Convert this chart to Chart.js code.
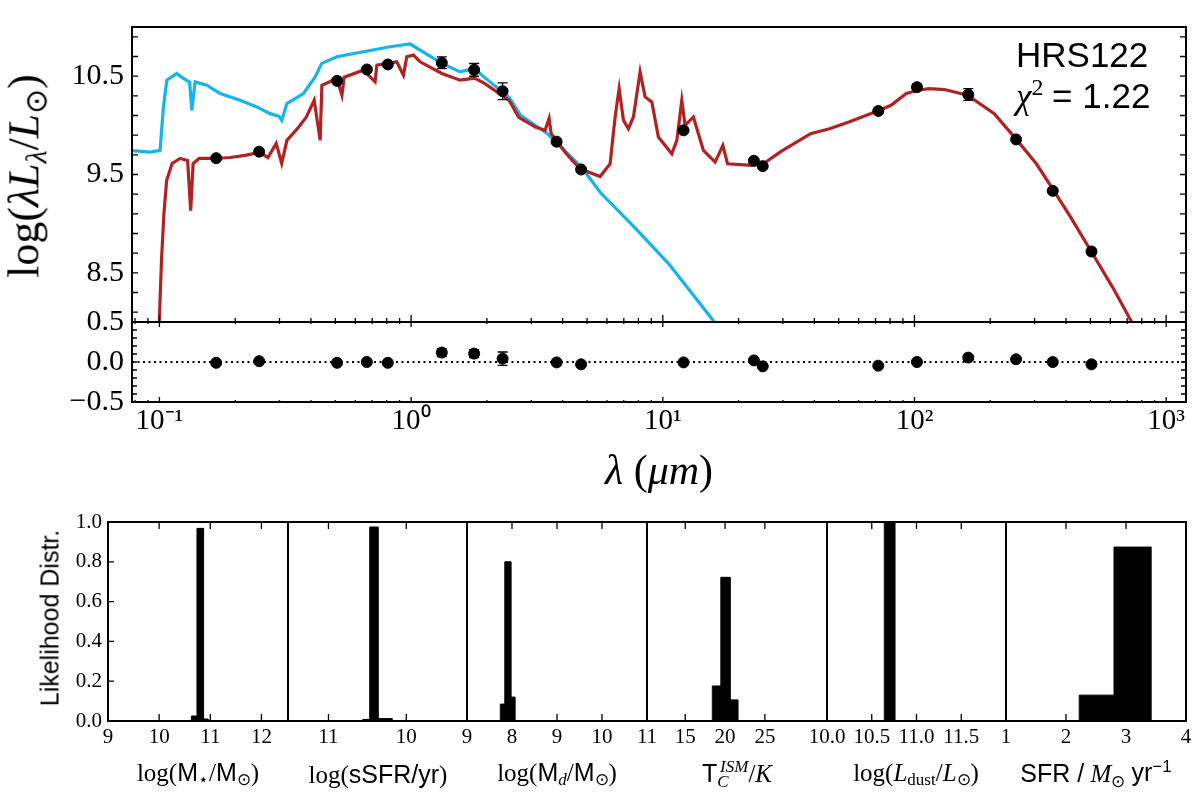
<!DOCTYPE html>
<html>
<head>
<meta charset="utf-8">
<script src="https://cdn.jsdelivr.net/npm/chart.js@4.4.1/dist/chart.umd.min.js"></script>
<style>
  body { margin: 0; background: #fff; }
  #wrap { position: relative; width: 1200px; height: 804px; overflow: hidden; background: #fff; }
  canvas { position: absolute; }
  .lbl { position: absolute; white-space: nowrap; color: #000; line-height: 1; font-family: 'Liberation Serif', serif; }
  .c { transform: translate(-50%, -50%); }
  .rot { transform: translate(-50%, -50%) rotate(-90deg); }
  .sans { font-family: 'Liberation Sans', Arial, sans-serif; }
  .lbl sub { font-size: 0.68em; vertical-align: -0.28em; }
  .lbl sup { font-size: 0.68em; vertical-align: 0.55em; }
</style>
</head>
<body>
<div id="wrap">
  <canvas id="sed" width="1200" height="352" style="left:0;top:0"></canvas>
  <canvas id="res" width="1200" height="208" style="left:0;top:292px"></canvas>

  <div class="lbl rot" style="left:27px;top:176px;font-size:44px">log(<i>λL</i><sub><i>λ</i></sub>/<i>L</i><sub>⊙</sub>)</div>
  <div class="lbl c" style="left:659px;top:470px;font-size:42px"><i>λ</i> (<i>μm</i>)</div>
  <div class="lbl sans" style="left:1016px;top:37px;font-size:35px">HRS122</div>
  <div class="lbl" style="left:1016px;top:76px;font-size:35px"><i>χ</i><sup>2</sup> <span class="sans">= 1.22</span></div>

  <div class="lbl rot sans" style="left:50px;top:618px;font-size:25px">Likelihood Distr.</div>
  <div class="lbl c" style="left:198px;top:774px;font-size:25px">log(<span class="sans">M</span><sub>⋆</sub>/<span class="sans">M</span><sub>⊙</sub>)</div>
  <div class="lbl c" style="left:378px;top:774px;font-size:25px">log(<span class="sans">sSFR/yr</span>)</div>
  <div class="lbl c" style="left:557px;top:774px;font-size:25px">log(<span class="sans">M</span><sub><i>d</i></sub>/<span class="sans">M</span><sub>⊙</sub>)</div>
  <div class="lbl c" style="left:737px;top:774px;font-size:25px"><span class="sans">T</span><sub><i>C</i></sub><sup style="margin-left:-0.5em"><i>ISM</i></sup>/<i>K</i></div>
  <div class="lbl c" style="left:916px;top:774px;font-size:25px">log(<i>L</i><sub>dust</sub>/<i>L</i><sub>⊙</sub>)</div>
  <div class="lbl c" style="left:1096px;top:774px;font-size:25px"><span class="sans">SFR /</span> <i>M</i><sub>⊙</sub> <span class="sans">yr<sup>−1</sup></span></div>
</div>

<script>
// ---- photometry (wavelength in micron, log luminosity, errors) ----
const bandWave = [0.168, 0.249, 0.508, 0.667, 0.808, 1.324, 1.780, 2.309, 3.785, 4.735,
                  12.09, 23.01, 24.95, 71.8, 102.3, 163.6, 253.3, 354.4, 505.0];
const bandLum  = [9.666, 9.732, 10.452, 10.568, 10.619, 10.636, 10.564, 10.347, 9.834, 9.551,
                  9.949, 9.640, 9.585, 10.146, 10.388, 10.313, 9.857, 9.334, 8.717];
const bandErr  = [0.02, 0.02, 0.02, 0.02, 0.02, 0.06, 0.065, 0.085, 0.02, 0.02,
                  0.02, 0.02, 0.02, 0.02, 0.03, 0.06, 0.02, 0.02, 0.02];
const residual = [-0.01, 0.01, -0.01, 0.0, -0.01, 0.118, 0.105, 0.042, -0.005, -0.029,
                  -0.005, 0.02, -0.054, -0.046, 0.0, 0.055, 0.034, 0.0, -0.029];
const residErr = [0.02, 0.02, 0.02, 0.02, 0.02, 0.05, 0.05, 0.083, 0.02, 0.02,
                  0.02, 0.02, 0.02, 0.02, 0.02, 0.03, 0.02, 0.02, 0.02];

// ---- best fit model (attenuated) ----
const modelWave = [0.0995, 0.1020, 0.1042, 0.1068, 0.1123, 0.1208, 0.1294, 0.1331, 0.1361, 0.1438,
  0.168, 0.191, 0.219, 0.249, 0.270, 0.291, 0.306, 0.321, 0.357, 0.383,
  0.412, 0.435, 0.442, 0.507, 0.531, 0.542, 0.646, 0.719, 0.731, 0.877,
  0.932, 0.961, 1.021, 1.086, 1.324, 1.566, 1.788, 1.950, 2.451, 2.676,
  3.131, 3.407, 3.534, 3.599, 4.129, 4.692, 5.636, 6.175, 6.465, 6.707,
  6.976, 7.301, 7.643, 8.124, 8.505, 9.044, 9.605, 10.86, 11.37, 11.90,
  12.26, 13.23, 14.50, 16.14, 17.32, 18.09, 22.58, 25.10, 29.51, 38.66,
  46.0, 54.9, 72.6, 80.7, 92.8, 103, 114.4, 131.6, 162.4, 207.5,
  255.9, 305, 350.9, 417.8, 506.8, 613.8, 731.8, 760];
const modelLum = [7.9, 8.653, 9.102, 9.439, 9.612, 9.663, 9.643, 9.133, 9.612, 9.663,
  9.663, 9.673, 9.694, 9.724, 9.673, 9.816, 9.612, 9.847, 9.980, 10.082,
  10.255, 9.847, 10.408, 10.477, 10.306, 10.490, 10.561, 10.442, 10.612, 10.646,
  10.510, 10.697, 10.714, 10.646, 10.528, 10.459, 10.480, 10.429, 10.255, 10.082,
  9.980, 9.949, 10.071, 9.918, 9.714, 9.558, 9.480, 9.609, 10.085, 10.374,
  10.051, 9.966, 10.085, 10.544, 10.289, 10.238, 9.881, 9.711, 9.847, 10.255,
  10.0, 10.085, 9.745, 9.626, 9.796, 9.609, 9.592, 9.609, 9.735, 9.915,
  9.966, 10.034, 10.153, 10.204, 10.323, 10.357, 10.374, 10.364, 10.306, 10.119,
  9.847, 9.609, 9.370, 9.064, 8.707, 8.35, 7.993, 7.85];

// ---- unattenuated stellar spectrum ----
const starWave = [0.075, 0.0919, 0.1006, 0.1037, 0.1070, 0.1172, 0.1246, 0.1318, 0.1345, 0.1386,
  0.1543, 0.1743, 0.2092, 0.2438, 0.2754, 0.2989, 0.3064, 0.3208, 0.3733, 0.4155,
  0.4417, 0.5069, 0.6464, 0.8253, 0.9908, 1.086, 1.324, 1.566, 1.788, 1.950,
  2.451, 2.723, 3.470, 4.766, 5.636, 7.721, 10.58, 16.11, 16.6];
const starLum = [9.745, 9.728, 9.745, 10.187, 10.459, 10.528, 10.477, 10.439, 10.153, 10.442,
  10.408, 10.323, 10.255, 10.187, 10.119, 10.092, 10.051, 10.221, 10.323, 10.493,
  10.630, 10.697, 10.748, 10.799, 10.827, 10.765, 10.630, 10.544, 10.579, 10.490,
  10.286, 10.102, 9.918, 9.571, 9.319, 8.962, 8.589, 7.993, 7.93];

const decadeTicks  = [0.1, 1, 10, 100, 1000];
const decadeLabels = ['10⁻¹', '10⁰', '10¹', '10²', '10³'];
const sedLumTicks  = [8.5, 9.5, 10.5];
const residTicks   = [-0.5, 0.0, 0.5];

// ---- likelihood distributions (bin edges, heights) ----
const mstarEdges = [10.63, 10.74, 10.87, 10.96];
const mstarProb  = [0.025, 0.968, 0.01];
const ssfrEdges  = [-10.56, -10.47, -10.36, -10.18];
const ssfrProb   = [0.008, 0.975, 0.012];
const mdustEdges = [7.74, 7.84, 7.98, 8.07];
const mdustProb  = [0.085, 0.80, 0.12];
const tempEdges  = [18.4, 19.47, 20.66, 21.63];
const tempProb   = [0.176, 0.722, 0.106];
const ldustEdges = [10.64, 10.76];
const ldustProb  = [1.0];
const sfrEdges   = [2.22, 2.80, 3.42];
const sfrProb    = [0.13, 0.874];

const mstarTicks = [9, 10, 11, 12];          const mstarLabels = ['9', '10', '11', '12'];
const ssfrTicks  = [-11, -10];               const ssfrLabels  = ['11', '10'];
const mdustTicks = [7, 8, 9, 10, 11];        const mdustLabels = ['9', '8', '9', '10', '11'];
const tempTicks  = [15, 20, 25];             const tempLabels  = ['15', '20', '25'];
const ldustTicks = [10.0, 10.5, 11.0, 11.5]; const ldustLabels = ['10.0', '10.5', '11.0', '11.5'];
const sfrTicks   = [1, 2, 3, 4];             const sfrLabels   = ['1', '2', '3', '4'];
const probTicks  = [0, 0.2, 0.4, 0.6, 0.8, 1.0];

const SERIF = 'Liberation Serif';
const RED = '#b22222';
const BLUE = '#14b4ec';

// frame around the plot area + inward ticks
const frameTicks = {
  id: 'frameTicks',
  afterDatasetsDraw(chart, args, opts) {
    const { ctx, chartArea: a, scales } = chart;
    ctx.save();
    ctx.strokeStyle = '#000';
    ctx.lineWidth = 1.3;
    ctx.beginPath();
    (opts.x || []).forEach(t => {
      const px = scales.x.getPixelForValue(t.v);
      if (px < a.left + 1 || px > a.right - 1) return;
      if (opts.xSides.includes('bottom')) { ctx.moveTo(px, a.bottom); ctx.lineTo(px, a.bottom - t.len); }
      if (opts.xSides.includes('top')) { ctx.moveTo(px, a.top); ctx.lineTo(px, a.top + t.len); }
    });
    (opts.y || []).forEach(t => {
      const py = scales.y.getPixelForValue(t.v);
      if (py < a.top + 1 || py > a.bottom - 1) return;
      if (opts.ySides.includes('left')) { ctx.moveTo(a.left, py); ctx.lineTo(a.left + t.len, py); }
      if (opts.ySides.includes('right')) { ctx.moveTo(a.right, py); ctx.lineTo(a.right - t.len, py); }
    });
    ctx.stroke();
    ctx.lineWidth = 2;
    ctx.strokeRect(a.left, a.top, a.right - a.left, a.bottom - a.top);
    ctx.restore();
  }
};

const errorBars = {
  id: 'errorBars',
  afterDatasetsDraw(chart) {
    const { ctx } = chart;
    const ys = chart.scales.y;
    chart.data.datasets.forEach((ds, di) => {
      if (!ds.errors) return;
      const meta = chart.getDatasetMeta(di);
      ctx.save();
      ctx.strokeStyle = '#000';
      ctx.lineWidth = 1.3;
      ctx.beginPath();
      meta.data.forEach((pt, k) => {
        const v = ds.data[k].y, e = ds.errors[k];
        const y1 = ys.getPixelForValue(v - e), y2 = ys.getPixelForValue(v + e);
        ctx.moveTo(pt.x, y1); ctx.lineTo(pt.x, y2);
        ctx.moveTo(pt.x - 5, y1); ctx.lineTo(pt.x + 5, y1);
        ctx.moveTo(pt.x - 5, y2); ctx.lineTo(pt.x + 5, y2);
      });
      ctx.stroke();
      ctx.restore();
    });
  }
};

function pairs(xs, ys) { return xs.map((x, i) => ({ x: x, y: ys[i] })); }

// log axis tick marks: decades long, 2..9 short
function logTickMarks(lo, hi) {
  const out = [];
  for (let e = -2; e <= 3; e++) {
    for (let m = 1; m <= 9; m++) {
      const v = m * Math.pow(10, e);
      if (v >= lo && v <= hi) out.push({ v: v, len: m === 1 ? 7 : 4 });
    }
  }
  return out;
}
function linTickMarks(from, to, step, len) {
  const out = [];
  for (let v = from; v <= to + 1e-9; v += step) out.push({ v: +v.toFixed(4), len: len });
  return out;
}

const X_MIN = 0.0778, X_MAX = 1199;
const noGrid = { display: false, drawTicks: false };
const noBorder = { display: false };

// ---- SED panel ----
new Chart(document.getElementById('sed'), {
  type: 'line',
  plugins: [frameTicks, errorBars],
  data: {
    datasets: [
      { data: pairs(bandWave, bandLum), errors: bandErr, showLine: false, pointRadius: 5.5,
        pointBackgroundColor: '#000', pointBorderColor: '#000', order: 0 },
      { data: pairs(modelWave, modelLum), borderColor: RED, borderWidth: 3.2, pointRadius: 0, tension: 0, order: 1 },
      { data: pairs(starWave, starLum), borderColor: BLUE, borderWidth: 3.2, pointRadius: 0, tension: 0, order: 2 }
    ]
  },
  options: {
    responsive: false, animation: false,
    layout: { padding: { left: 0, top: 27, right: 14, bottom: 30 } },
    plugins: {
      legend: { display: false }, tooltip: { enabled: false },
      frameTicks: { x: logTickMarks(X_MIN, X_MAX), xSides: ['bottom'],
                    y: linTickMarks(8.1, 10.9, 0.2, 6), ySides: ['left', 'right'] }
    },
    scales: {
      x: { type: 'logarithmic', min: X_MIN, max: X_MAX, ticks: { display: false },
           grid: noGrid, border: noBorder, afterFit(s) { s.height = 0; } },
      y: { min: 8, max: 11,
           afterBuildTicks(s) { s.ticks = sedLumTicks.map(v => ({ value: v })); },
           ticks: { color: '#000', padding: 8, font: { family: SERIF, size: 30 }, callback: v => v.toFixed(1) },
           grid: noGrid, border: noBorder, afterFit(s) { s.width = 132; } }
    }
  }
});

// ---- residual panel ----
new Chart(document.getElementById('res'), {
  type: 'line',
  plugins: [frameTicks, errorBars],
  data: {
    datasets: [
      { data: pairs(bandWave, residual), errors: residErr, showLine: false, pointRadius: 5.5,
        pointBackgroundColor: '#000', pointBorderColor: '#000', order: 0 },
      { data: pairs([X_MIN, X_MAX], [0, 0]), borderColor: '#000', borderWidth: 1.8, borderDash: [2, 3.5],
        pointRadius: 0, order: 1 }
    ]
  },
  options: {
    responsive: false, animation: false,
    layout: { padding: { left: 0, top: 30, right: 14, bottom: 0 } },
    plugins: {
      legend: { display: false }, tooltip: { enabled: false },
      frameTicks: { x: logTickMarks(X_MIN, X_MAX).map(t => ({ v: t.v, len: t.len - 2 })), xSides: ['bottom', 'top'],
                    y: linTickMarks(-0.4, 0.4, 0.1, 5), ySides: ['left', 'right'] }
    },
    scales: {
      x: { type: 'logarithmic', min: X_MIN, max: X_MAX,
           afterBuildTicks(s) { s.ticks = decadeTicks.map(v => ({ value: v })); },
           ticks: { color: '#000', padding: 2, autoSkip: false, maxRotation: 0,
                    font: { family: SERIF, size: 29 }, callback: (v, i) => decadeLabels[i] },
           grid: noGrid, border: noBorder, afterFit(s) { s.height = 98; } },
      y: { min: -0.5, max: 0.5,
           afterBuildTicks(s) { s.ticks = residTicks.map(v => ({ value: v })); },
           ticks: { color: '#000', padding: 8, font: { family: SERIF, size: 30 },
                    callback: v => (v < 0 ? '−' : '') + Math.abs(v).toFixed(1) },
           grid: noGrid, border: noBorder, afterFit(s) { s.width = 132; } }
    }
  }
});

// ---- likelihood histograms ----
const PANEL_X = [108, 288, 467, 647, 827, 1006, 1186];
const hists = [
  { edges: mstarEdges, prob: mstarProb, min: 9, max: 12.52, ticks: mstarTicks, labels: mstarLabels },
  { edges: ssfrEdges, prob: ssfrProb, min: -11.52, max: -9.22, ticks: ssfrTicks, labels: ssfrLabels },
  { edges: mdustEdges, prob: mdustProb, min: 7, max: 11, ticks: mdustTicks, labels: mdustLabels },
  { edges: tempEdges, prob: tempProb, min: 10.2, max: 32.8, ticks: tempTicks, labels: tempLabels },
  { edges: ldustEdges, prob: ldustProb, min: 10, max: 12, ticks: ldustTicks, labels: ldustLabels },
  { edges: sfrEdges, prob: sfrProb, min: 1, max: 4, ticks: sfrTicks, labels: sfrLabels }
];
const wrap = document.getElementById('wrap');

hists.forEach((h, i) => {
  const first = i === 0;
  const margin = 30;
  const cLeft = first ? 0 : PANEL_X[i] - margin;
  const cRight = PANEL_X[i + 1] + margin;
  const cv = document.createElement('canvas');
  cv.width = cRight - cLeft;
  cv.height = 304;
  cv.style.left = cLeft + 'px';
  cv.style.top = '500px';
  wrap.insertBefore(cv, wrap.firstChild);

  const steps = [{ x: h.edges[0], y: 0 }];
  h.prob.forEach((p, k) => steps.push({ x: h.edges[k], y: p }));
  steps.push({ x: h.edges[h.edges.length - 1], y: 0 });

  new Chart(cv, {
    type: 'line',
    plugins: [frameTicks],
    data: {
      datasets: [{ data: steps, stepped: 'before', fill: 'origin', backgroundColor: '#000',
                   borderColor: '#000', borderWidth: 1, pointRadius: 0 }]
    },
    options: {
      responsive: false, animation: false,
      layout: { padding: { left: first ? 0 : margin, top: 22, right: margin, bottom: 0 } },
      plugins: {
        legend: { display: false }, tooltip: { enabled: false },
        frameTicks: { x: h.ticks.map(v => ({ v: v, len: 7 })), xSides: ['bottom', 'top'],
                      y: first ? probTicks.map(v => ({ v: v, len: 6 })) : [], ySides: ['left'] }
      },
      scales: {
        x: { type: 'linear', min: h.min, max: h.max,
             afterBuildTicks(s) { s.ticks = h.ticks.map(v => ({ value: v })); },
             ticks: { color: '#000', padding: 4, autoSkip: false, maxRotation: 0,
                      font: { family: SERIF, size: 21 }, callback: (v, k) => h.labels[k] },
             grid: noGrid, border: noBorder, afterFit(s) { s.height = 83; } },
        y: { min: 0, max: 1, display: first,
             afterBuildTicks(s) { s.ticks = probTicks.map(v => ({ value: v })); },
             ticks: { color: '#000', padding: 6, font: { family: SERIF, size: 21 }, callback: v => v.toFixed(1) },
             grid: noGrid, border: noBorder, afterFit(s) { s.width = first ? 108 : 0; } }
      }
    }
  });
});
</script>
</body>
</html>
